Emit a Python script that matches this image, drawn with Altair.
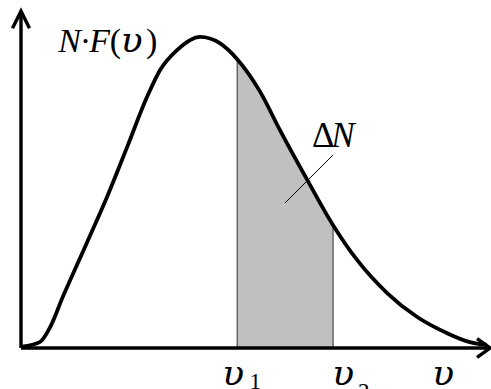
import altair as alt
import pandas as pd

# Speed distribution curve N·F(v), sampled points (v, N·F)
speed = [0.02, 0.40, 0.62, 0.89, 1.40, 1.83, 2.26, 2.68, 2.96, 3.32, 3.81,
         4.23, 4.60, 5.09, 5.51, 6.09, 6.64, 7.15, 7.79, 8.43, 9.06, 9.55, 9.91]
density = [0.04, 0.17, 0.60, 1.47, 3.02, 4.34, 5.78, 7.21, 7.99, 8.56, 8.94,
           8.76, 8.30, 7.36, 6.26, 4.83, 3.53, 2.53, 1.58, 0.89, 0.43, 0.17, 0.09]

# Interval [v1, v2] whose area is ΔN
v1, v2 = 4.60, 6.64
f_v1, f_v2 = 8.30, 3.53

# Axis extents (arrow tips)
v_axis_end = 9.98
f_axis_end = 9.68

# Leader line from the ΔN label into the shaded area
leader_v = [6.64, 5.62]
leader_f = [5.55, 4.17]

# Labels: upright Latin/digits, italic Latin, italic Greek speed symbol
upright_text = ["(", ")", "Δ", "1", "2"]
upright_v = [1.89, 2.66, 6.19, 4.86, 7.17]
upright_f = [8.51, 8.51, 5.78, -1.18, -1.47]
upright_size = [34, 34, 35, 23, 23]

italic_text = ["N·F", "N"]
italic_v = [0.79, 6.60]
italic_f = [8.51, 5.78]
italic_size = [34, 35]

greek_text = ["υ", "υ", "υ", "υ"]
greek_v = [2.12, 4.28, 6.62, 8.75]
greek_f = [8.51, -1.06, -1.06, -1.06]
greek_size = [36, 36, 36, 36]

FONT = "Liberation Serif"
GREEK_FONT = "DejaVu Serif"

curve = pd.DataFrame({"v": speed, "nf": density})
xs = alt.Scale(domain=[0, 10], nice=False)
ys = alt.Scale(domain=[0, 10], nice=False)
X = lambda f: alt.X(f, type="quantitative", scale=xs, axis=None)
Y = lambda f: alt.Y(f, type="quantitative", scale=ys, axis=None)

shade = alt.Chart(curve).transform_filter(
    f"datum.v >= {v1} && datum.v <= {v2}"
).mark_area(interpolate="monotone", color="#c0c0c0").encode(x=X("v"), y=Y("nf"))

bounds = alt.Chart(pd.DataFrame({"v": [v1, v2], "top": [f_v1, f_v2], "base": [0, 0]})).mark_rule(
    color="#4a4a4a", strokeWidth=1.2
).encode(x=X("v"), y=Y("base"), y2="top")

line = alt.Chart(curve).mark_line(
    interpolate="monotone", color="black", strokeWidth=3.8
).encode(x=X("v"), y=Y("nf"))

x_axis = alt.Chart(pd.DataFrame({"a": [0], "b": [v_axis_end], "y": [0]})).mark_rule(
    color="black", strokeWidth=3.4
).encode(x=X("a"), x2="b", y=Y("y"))

y_axis = alt.Chart(pd.DataFrame({"a": [0], "b": [f_axis_end], "x": [0]})).mark_rule(
    color="black", strokeWidth=3.4
).encode(y=Y("a"), y2="b", x=X("x"))

x_head = alt.Chart(pd.DataFrame({"v": [v_axis_end], "f": [0]})).mark_point(
    shape="M-1,-0.73L0,0L-1,0.73", size=676, filled=False, opacity=1,
    stroke="black", strokeWidth=3.4, strokeJoin="miter"
).encode(x=X("v"), y=Y("f"))

y_head = alt.Chart(pd.DataFrame({"v": [0], "f": [f_axis_end]})).mark_point(
    shape="M-0.5,1L0,0L0.5,1", size=1156, filled=False, opacity=1,
    stroke="black", strokeWidth=3.4, strokeJoin="miter"
).encode(x=X("v"), y=Y("f"))

leader = alt.Chart(pd.DataFrame({"v": leader_v, "f": leader_f})).mark_line(
    color="black", strokeWidth=1
).encode(x=X("v"), y=Y("f"))


def labels(text, v, f, size, **style):
    df = pd.DataFrame({"t": text, "v": v, "f": f, "s": size})
    return alt.Chart(df).mark_text(
        align="left", baseline="alphabetic", color="black", **style
    ).encode(x=X("v"), y=Y("f"), text="t:N",
             size=alt.Size("s:Q", scale=None, legend=None))


upright = labels(upright_text, upright_v, upright_f, upright_size, font=FONT)
italic = labels(italic_text, italic_v, italic_f, italic_size, font=FONT, fontStyle="italic")
greek = labels(greek_text, greek_v, greek_f, greek_size, font=GREEK_FONT, fontStyle="italic")

chart = alt.layer(
    shade, bounds, line, x_axis, y_axis, x_head, y_head, leader, upright, italic, greek
).properties(
    width=470, height=348,
    padding={"left": 21, "top": 0, "right": 0, "bottom": 41},
    autosize=alt.AutoSizeParams(type="none"),
    background="white",
).configure_view(stroke=None)

chart.save("out.html", embed_options={"renderer": "svg", "actions": False})
